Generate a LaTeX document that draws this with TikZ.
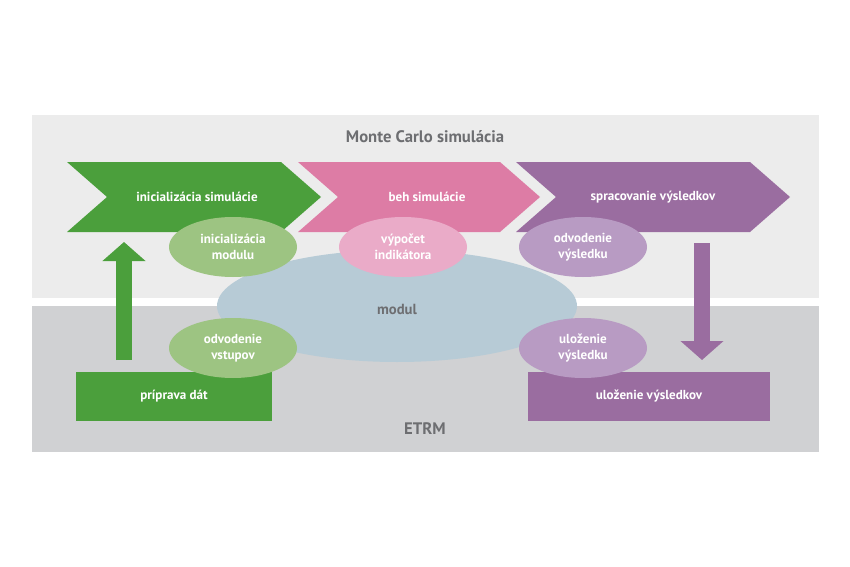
\documentclass[tikz,border=0pt]{standalone}
\usepackage{fontspec}
\setmainfont{PT Sans}
\usetikzlibrary{arrows.meta,shapes.geometric}
\definecolor{bandtop}{HTML}{ECECEC}
\definecolor{bandbot}{HTML}{D0D1D3}
\definecolor{txtgray}{HTML}{6D6E71}
\definecolor{chgreen}{HTML}{4B9F3C}
\definecolor{chpink}{HTML}{DD7CA5}
\definecolor{chpurple}{HTML}{9A6DA0}
\definecolor{elgreen}{HTML}{9DC482}
\definecolor{elpink}{HTML}{EAABC8}
\definecolor{elpurple}{HTML}{B89BC3}
\definecolor{elblue}{HTML}{B7CBD6}

\begin{document}
\begin{tikzpicture}[x=0.75pt,y=-0.75pt,
  lbl/.style={text=white,font=\bfseries\fontsize{9.8}{12}\selectfont,align=center},
  head/.style={text=txtgray,font=\bfseries\fontsize{12.5}{14}\selectfont},
  ell/.style={ellipse,inner sep=0pt,minimum width=96pt,minimum height=45pt,lbl},
  box/.style={rectangle,inner sep=0pt,minimum height=36.75pt,lbl},
  bigarrow/.style={line width=12pt,-{Triangle[width=31.5pt,length=14.25pt]}}]
\useasboundingbox (0,0) rectangle (850,567);

% pasy
\fill[bandtop] (32,115) rectangle (819,298);
\fill[bandbot] (32,306) rectangle (819,452);
\node[head] (mc) at (425,137) {Monte Carlo simulácia};
\node[head] (etrm) at (425,429) {ETRM};

% sipky hore
\foreach \n/\xl/\xr/\tx/\col/\txt in {c1/67/281/197/chgreen/inicializácia simulácie,
    c2/298/500/427/chpink/beh simulácie,
    c3/516/750/653/chpurple/spracovanie výsledkov} {
\fill[\col] (\xl,162) -- (\xr,162) -- (\xr+40,197) -- (\xr,232) -- (\xl,232) -- (\xl+40,197) -- cycle;
\node[lbl] (\n) at (\tx,197) {\txt};
}

% modul
\node[ellipse,fill=elblue,minimum width=270pt,minimum height=84pt,inner sep=0pt] (mod) at (397,306) {};
\node[head,font=\bfseries\fontsize{11}{13}\selectfont] at (397,309) {modul};

% ETRM boxy
\node[box,fill=chgreen,minimum width=147pt] (pd) at (174,396.5) {príprava dát};
\node[box,fill=chpurple,minimum width=181.5pt] (uv) at (649,396.5) {uloženie výsledkov};

\node[ell,fill=elgreen] (im) at (233,247) {inicializácia\\modulu};
\node[ell,fill=elpink] (vi) at (403,247) {výpočet\\indikátora};
\node[ell,fill=elpurple] (ov) at (583,247) {odvodenie\\výsledku};
\node[ell,fill=elgreen] (os) at (233,348) {odvodenie\\vstupov};
\node[ell,fill=elpurple] (ul) at (583,348) {uloženie\\výsledku};

% prepojenia
\coordinate (gs) at (124,360);
\coordinate (ge) at (124,242);
\coordinate (ps) at (702,243);
\coordinate (pe) at (702,360);
\draw[bigarrow,chgreen] (gs) -- (ge);
\draw[bigarrow,chpurple] (ps) -- (pe);
\end{tikzpicture}
\end{document}
